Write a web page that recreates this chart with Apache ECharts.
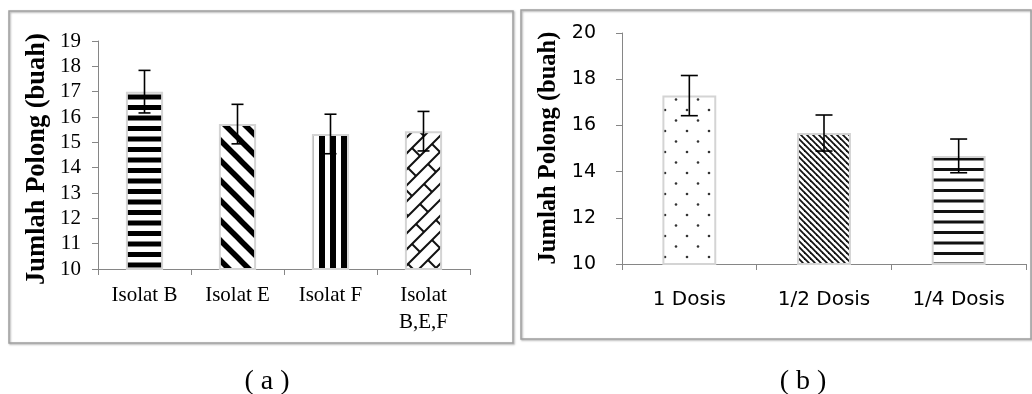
<!DOCTYPE html>
<html>
<head>
<meta charset="utf-8">
<script src="https://cdn.jsdelivr.net/npm/echarts@6/dist/echarts.min.js"></script>
<style>
html,body{margin:0;padding:0;background:#fff;}
#chart{width:1032px;height:394px;}
</style>
</head>
<body>
<div id="chart"></div>
<script>
// ---- data ----
const catA = ['Isolat B', 'Isolat E', 'Isolat F', 'Isolat\nB,E,F'];
const valA = [17.0, 15.72, 15.33, 15.44];
const errA = [0.84, 0.78, 0.78, 0.78];
const ticksA = { min: 10, max: 19, interval: 1 };

const catB = ['1 Dosis', '1/2 Dosis', '1/4 Dosis'];
const valB = [17.29, 15.67, 14.68];
const errB = [0.87, 0.78, 0.73];
const ticksB = { min: 10, max: 20, interval: 2 };

const titleY = 'Jumlah Polong (buah)';

// ---- patterns ----
function pat(w, h, draw) {
  const c = document.createElement('canvas');
  c.width = w; c.height = h;
  const ctx = c.getContext('2d');
  ctx.fillStyle = '#fff';
  ctx.fillRect(0, 0, w, h);
  draw(ctx, w, h);
  return { image: c, repeat: 'repeat' };
}
const pHoriz = pat(8, 21, (ctx) => {
  ctx.fillStyle = '#000';
  ctx.fillRect(0, 0, 8, 5);
  ctx.fillRect(0, 10.5, 8, 5);
});
const pDiag = pat(20, 20, (ctx) => {
  ctx.strokeStyle = '#000'; ctx.lineWidth = 5.5;
  for (let k = -1; k <= 1; k++) {
    ctx.beginPath(); ctx.moveTo(-5, k * 20 - 5); ctx.lineTo(25, k * 20 + 25); ctx.stroke();
  }
});
const pVert = pat(11, 8, (ctx) => {
  ctx.fillStyle = '#000';
  ctx.fillRect(0, 0, 6, 8);
});
const pBrick = pat(96, 96, (ctx) => {
  ctx.strokeStyle = '#111'; ctx.lineWidth = 2;
  const s = 16;
  for (let k = -2; k <= 14; k++) {
    ctx.beginPath(); ctx.moveTo(-10, s * k + 10); ctx.lineTo(s * k + 10, -10); ctx.stroke();
  }
  for (let k = -2; k <= 14; k++) {
    const off = (k % 2 === 0) ? 0 : 24;
    for (let c = -192 + off; c <= 192; c += 48) {
      const x1 = (s * k + c) / 2, y1 = (s * k - c) / 2;
      const x2 = (s * (k + 1) + c) / 2, y2 = (s * (k + 1) - c) / 2;
      ctx.beginPath(); ctx.moveTo(x1, y1); ctx.lineTo(x2, y2); ctx.stroke();
    }
  }
});
const pDots = pat(22, 21, (ctx) => {
  ctx.fillStyle = '#333';
  ctx.beginPath(); ctx.arc(5, 5, 1.3, 0, Math.PI * 2); ctx.fill();
  ctx.beginPath(); ctx.arc(16, 15.5, 1.3, 0, Math.PI * 2); ctx.fill();
});
const pFine = pat(6, 6, (ctx) => {
  ctx.strokeStyle = '#111'; ctx.lineWidth = 1.8;
  for (let k = -1; k <= 1; k++) {
    ctx.beginPath(); ctx.moveTo(-2, k * 6 - 2); ctx.lineTo(8, k * 6 + 8); ctx.stroke();
  }
});
const pHorizThin = pat(8, 21, (ctx) => {
  ctx.fillStyle = '#111';
  ctx.fillRect(0, 0, 8, 3);
  ctx.fillRect(0, 10.5, 8, 3);
});
const patternsA = [pHoriz, pDiag, pVert, pBrick];
const patternsB = [pDots, pFine, pHorizThin];

// ---- helpers ----
const axisGray = '#868686';
function errSeries(xi, vals, errs, hw) {
  return {
    type: 'custom', xAxisIndex: xi, yAxisIndex: xi, z: 10,
    encode: { x: 0, y: [1, 2] },
    data: vals.map((v, i) => [i, v - errs[i], v + errs[i]]),
    renderItem: function (params, api) {
      const x = api.value(0);
      const lo = api.coord([x, api.value(1)]);
      const hi = api.coord([x, api.value(2)]);
      const st = { stroke: '#000', lineWidth: 1.6 };
      return {
        type: 'group', children: [
          { type: 'line', shape: { x1: lo[0], y1: lo[1], x2: hi[0], y2: hi[1] }, style: st },
          { type: 'line', shape: { x1: lo[0] - hw, y1: lo[1], x2: lo[0] + hw, y2: lo[1] }, style: st },
          { type: 'line', shape: { x1: hi[0] - hw, y1: hi[1], x2: hi[0] + hw, y2: hi[1] }, style: st }
        ]
      };
    }
  };
}
function barData(vals, pats) {
  return vals.map((v, i) => ({ value: v, itemStyle: { color: pats[i] } }));
}

const chart = echarts.init(document.getElementById('chart'), null, { renderer: 'canvas' });
const serif = 'Liberation Serif, Times New Roman, serif';
const sans = 'DejaVu Sans, sans-serif';

chart.setOption({
  animation: false,
  backgroundColor: '#fff',
  grid: [
    { left: 98, top: 41, width: 372, height: 228 },
    { left: 622, top: 33, width: 404, height: 231 }
  ],
  xAxis: [
    {
      gridIndex: 0, type: 'category', data: catA, boundaryGap: true,
      axisLine: { lineStyle: { color: axisGray, width: 1 } },
      axisTick: { show: true, length: 6, lineStyle: { color: axisGray } },
      axisLabel: { color: '#000', fontFamily: serif, fontSize: 21, margin: 13, lineHeight: 27, interval: 0 }
    },
    {
      gridIndex: 1, type: 'category', data: catB, boundaryGap: true,
      axisLine: { lineStyle: { color: axisGray, width: 1 } },
      axisTick: { show: true, length: 6, lineStyle: { color: axisGray } },
      axisLabel: { color: '#000', fontFamily: sans, fontSize: 20, margin: 26, interval: 0 }
    }
  ],
  yAxis: [
    {
      gridIndex: 0, type: 'value', min: ticksA.min, max: ticksA.max, interval: ticksA.interval,
      splitLine: { show: false },
      axisLine: { show: true, lineStyle: { color: axisGray, width: 1 } },
      axisTick: { show: true, length: 6, lineStyle: { color: axisGray } },
      axisLabel: { color: '#000', fontFamily: serif, fontSize: 21, margin: 17 }
    },
    {
      gridIndex: 1, type: 'value', min: ticksB.min, max: ticksB.max, interval: ticksB.interval,
      splitLine: { show: false },
      axisLine: { show: true, lineStyle: { color: axisGray, width: 1 } },
      axisTick: { show: true, length: 6, lineStyle: { color: axisGray } },
      axisLabel: { color: '#000', fontFamily: sans, fontSize: 19, margin: 26 }
    }
  ],
  series: [
    {
      type: 'bar', xAxisIndex: 0, yAxisIndex: 0, barWidth: '40%',
      data: barData(valA, patternsA),
      itemStyle: { borderColor: '#d4d4d4', borderWidth: 2 }
    },
    errSeries(0, valA, errA, 6),
    {
      type: 'bar', xAxisIndex: 1, yAxisIndex: 1, barWidth: '40%',
      data: barData(valB, patternsB),
      itemStyle: { borderColor: '#d4d4d4', borderWidth: 2 }
    },
    errSeries(1, valB, errB, 8.5)
  ],
  graphic: [
    { type: 'rect', shape: { x: 9, y: 11, width: 504, height: 332 }, style: { fill: 'none', stroke: '#a0a0a0', lineWidth: 1.5, shadowColor: 'rgba(0,0,0,0.35)', shadowBlur: 2, shadowOffsetX: 1, shadowOffsetY: 1 }, z: -1 },
    { type: 'rect', shape: { x: 521, y: 10, width: 510, height: 329 }, style: { fill: 'none', stroke: '#a0a0a0', lineWidth: 1.5, shadowColor: 'rgba(0,0,0,0.35)', shadowBlur: 2, shadowOffsetX: 1, shadowOffsetY: 1 }, z: -1 },
    { type: 'text', x: 37, y: 159, rotation: Math.PI / 2, style: { text: titleY, font: 'bold 26.5px ' + serif, fill: '#000', textAlign: 'center', textVerticalAlign: 'middle' } },
    { type: 'text', x: 549, y: 148, rotation: Math.PI / 2, style: { text: titleY, font: 'bold 24.5px ' + serif, fill: '#000', textAlign: 'center', textVerticalAlign: 'middle' } },
    { type: 'text', x: 267, y: 382, style: { text: '( a )', font: '28px ' + serif, fill: '#000', textAlign: 'center', textVerticalAlign: 'middle' } },
    { type: 'text', x: 803, y: 382, style: { text: '( b )', font: '28px ' + serif, fill: '#000', textAlign: 'center', textVerticalAlign: 'middle' } }
  ]
});
</script>
</body>
</html>
